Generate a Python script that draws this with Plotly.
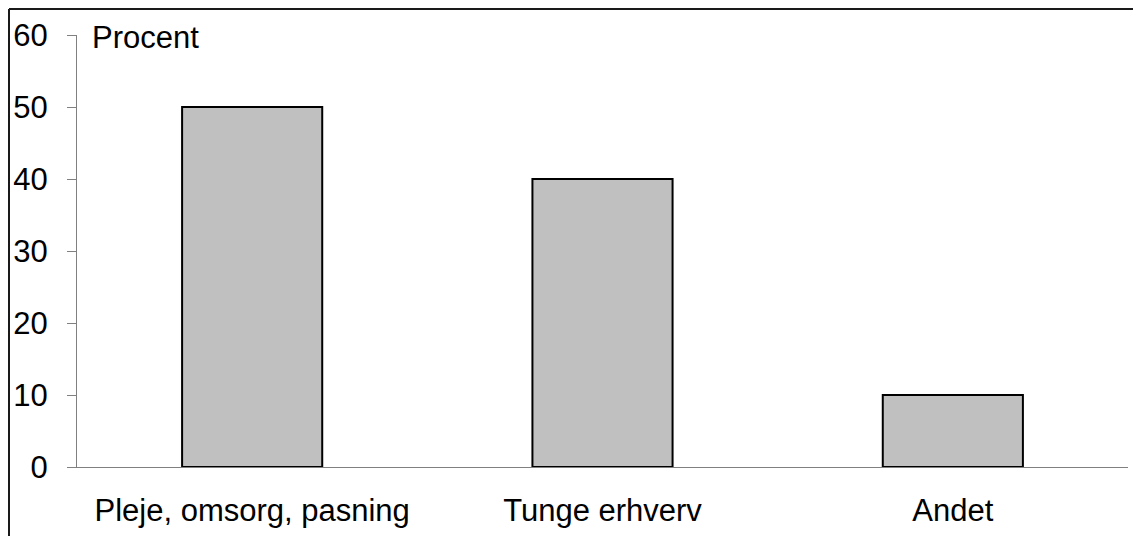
import plotly.graph_objects as go

categories = ["Pleje, omsorg, pasning", "Tunge erhverv", "Andet"]
values = [50, 40, 10]
y_ticks = [0, 10, 20, 30, 40, 50, 60]
y_label = "Procent"

# page body has 8px margin; work in screenshot pixels and shift
O = 8
W, H = 1141 - 2 * O, 536
plot_left, plot_right, plot_top, plot_bottom = 77, 1128, 35, 467
L = plot_left - O
R = W - (plot_right - O)
T = plot_top - O
B = H - (plot_bottom - O)
pw = W - L - R
ph = H - T - B

def px_x(p):
    return (p - O - L) / pw

def px_y(p):
    return (H - B - (p - O)) / ph

fig = go.Figure(
    go.Bar(
        x=categories,
        y=values,
        width=0.4,
        marker=dict(color="#c0c0c0", line=dict(color="#000000", width=2)),
        hoverinfo="x+y",
    )
)

font = "Liberation Sans, Arial, sans-serif"
FS = 31
fig.update_layout(
    width=W,
    height=H,
    margin=dict(l=L, r=R, t=T, b=B, pad=0, autoexpand=False),
    paper_bgcolor="white",
    plot_bgcolor="white",
    showlegend=False,
    font=dict(family=font, size=FS, color="#000000"),
    xaxis=dict(
        range=[-0.5, 2.5],
        automargin=False,
        showgrid=False,
        showline=True,
        linecolor="#808080",
        linewidth=1,
        ticks="",
        ticklabelstandoff=16,
        tickfont=dict(size=FS),
        zeroline=False,
        fixedrange=True,
    ),
    yaxis=dict(
        range=[0, 60],
        automargin=False,
        tickvals=y_ticks,
        showgrid=False,
        showline=True,
        linecolor="#808080",
        linewidth=1,
        ticks="outside",
        ticklen=9,
        tickcolor="#808080",
        tickwidth=1,
        ticklabelstandoff=13,
        tickfont=dict(size=FS),
        zeroline=False,
        fixedrange=True,
    ),
    annotations=[
        dict(
            text=y_label,
            xref="paper", yref="paper",
            x=px_x(90), y=px_y(38),
            xanchor="left", yanchor="middle",
            showarrow=False,
            font=dict(size=FS, family=font),
        )
    ],
    shapes=[
        dict(type="line", xref="paper", yref="paper",
             x0=px_x(9), x1=px_x(1141 + 5), y0=px_y(9), y1=px_y(9),
             line=dict(color="#1a1a1a", width=2)),
        dict(type="line", xref="paper", yref="paper",
             x0=px_x(9), x1=px_x(9), y0=px_y(9), y1=px_y(536 + 20),
             line=dict(color="#1a1a1a", width=2)),
    ],
)

fig.write_html("out.html")
